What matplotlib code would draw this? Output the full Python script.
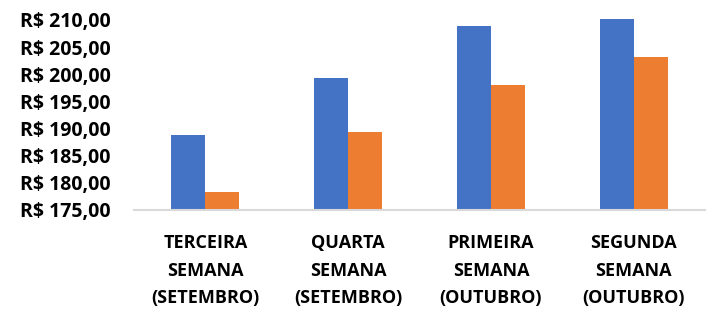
import matplotlib
matplotlib.use("Agg")
import matplotlib.pyplot as plt
import numpy as np

categories = ["TERCEIRA\nSEMANA\n(SETEMBRO)", "QUARTA\nSEMANA\n(SETEMBRO)",
              "PRIMEIRA\nSEMANA\n(OUTUBRO)", "SEGUNDA\nSEMANA\n(OUTUBRO)"]
serie_azul = [188.8, 199.3, 208.9, 210.2]
serie_laranja = [178.3, 189.4, 198.1, 203.2]
yticks = [175, 180, 185, 190, 195, 200, 205, 210]
ytick_labels = ["R$ 175,00", "R$ 180,00", "R$ 185,00", "R$ 190,00",
                "R$ 195,00", "R$ 200,00", "R$ 205,00", "R$ 210,00"]

plt.rcParams['font.family'] = ['Open Sans', 'DejaVu Sans']

fig = plt.figure(figsize=(7.09, 3.13), dpi=100)
ax = fig.add_axes([134/709, 1 - 210/313, (705-134)/709, (210-14.5)/313])

x = np.arange(len(categories))
w = 0.238
ax.bar(x - w/2, np.array(serie_azul) - 175, w, bottom=175, color="#4472C4")
ax.bar(x + w/2, np.array(serie_laranja) - 175, w, bottom=175, color="#ED7D31")

ax.set_xlim(-0.5, 3.5)
ax.set_ylim(175, 211)
ax.set_yticks(yticks)
ax.set_yticklabels(ytick_labels, fontsize=14, fontweight="bold")
ax.set_xticks(x)
ax.set_xticklabels(categories, fontsize=13, fontweight="bold", linespacing=1.66)
ax.tick_params(axis="both", length=0)
ax.tick_params(axis="x", pad=17.5)
ax.tick_params(axis="y", pad=17)
for s in ["top", "right", "left"]:
    ax.spines[s].set_visible(False)
ax.spines["bottom"].set_color("#d9d9d9")
ax.spines["bottom"].set_linewidth(1.5)

fig.savefig("out.png", dpi=100)
